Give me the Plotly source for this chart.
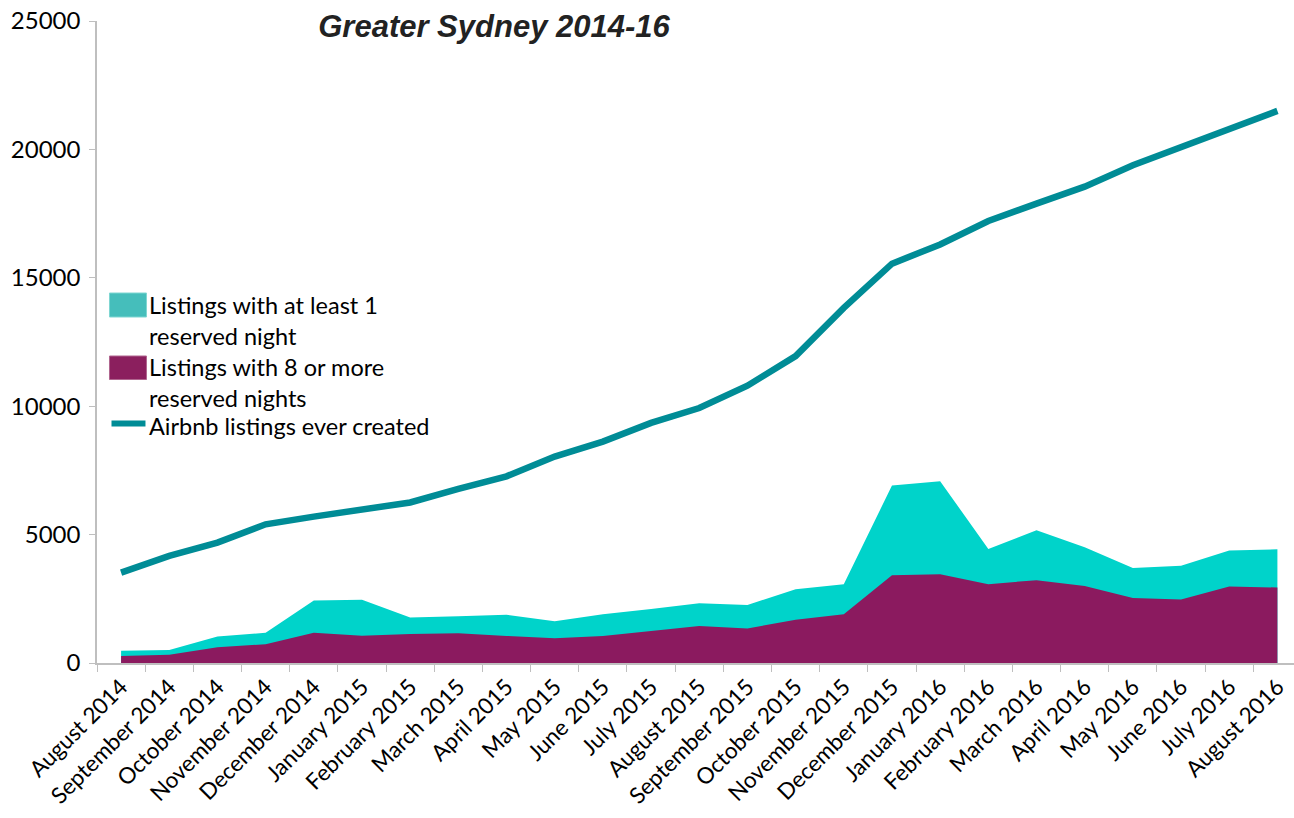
import plotly.graph_objects as go

months = ["August 2014", "September 2014", "October 2014", "November 2014", "December 2014",
          "January 2015", "February 2015", "March 2015", "April 2015", "May 2015", "June 2015",
          "July 2015", "August 2015", "September 2015", "October 2015", "November 2015",
          "December 2015", "January 2016", "February 2016", "March 2016", "April 2016",
          "May 2016", "June 2016", "July 2016", "August 2016"]

at_least_1 = [480, 510, 1030, 1180, 2430, 2460, 1770, 1820, 1880, 1630, 1900, 2100, 2330,
              2260, 2870, 3070, 6910, 7080, 4440, 5170, 4510, 3700, 3790, 4380, 4430]

eight_plus = [275, 325, 610, 730, 1180, 1065, 1130, 1155, 1055, 960, 1050, 1250, 1440,
              1345, 1680, 1900, 3420, 3460, 3070, 3225, 3000, 2535, 2470, 2975, 2940]

ever_created = [3520, 4170, 4690, 5400, 5700, 5970, 6250, 6780, 7270, 8040, 8620, 9350, 9930,
                10800, 11950, 13830, 15550, 16300, 17210, 17890, 18550, 19380, 20070, 20790, 21500]

y_ticks = [0, 5000, 10000, 15000, 20000, 25000]

legend_labels = ["Listings with at least 1<br>reserved night",
                 "Listings with 8 or more<br>reserved nights",
                 "Airbnb listings ever created"]

FONT = "Lato"
CYAN = "#00D3CA"
PURPLE = "#8B1A5F"
TEAL = "#008C96"

W, H = 1294, 818
PLOT_L, PLOT_R = 96.5, 1294.0   # screen px
PLOT_T, PLOT_B = 21.0, 663.0


def px(xs):
    return (xs - PLOT_L) / (PLOT_R - PLOT_L)


def py(ys):
    return (PLOT_B - ys) / (PLOT_B - PLOT_T)


fig = go.Figure()
fig.add_trace(go.Scatter(x=months, y=at_least_1, name=legend_labels[0].replace("<br>", " "),
                         mode="none", fill="tozeroy", fillcolor=CYAN))
fig.add_trace(go.Scatter(x=months, y=eight_plus, name=legend_labels[1].replace("<br>", " "),
                         mode="none", fill="tozeroy", fillcolor=PURPLE))
fig.add_trace(go.Scatter(x=months, y=ever_created, name=legend_labels[2],
                         mode="lines", line=dict(color=TEAL, width=6.5)))

# legend drawn as swatches + text
shapes = [
    dict(type="rect", xref="paper", yref="paper", x0=px(109), x1=px(146), y0=py(317), y1=py(293),
         fillcolor="#45BEBB", line=dict(color="#7FD6D2", width=1)),
    dict(type="rect", xref="paper", yref="paper", x0=px(109), x1=px(146), y0=py(379.5), y1=py(356),
         fillcolor="#8B1F5E", line=dict(color="#B0668F", width=1)),
    dict(type="line", xref="paper", yref="paper", x0=px(111), x1=px(145), y0=py(423.5), y1=py(423.5),
         line=dict(color=TEAL, width=6)),
]

label_centers = [320, 382, 426]
annotations = []
for txt, cy in zip(legend_labels, label_centers):
    annotations.append(dict(
        text=txt, xref="paper", yref="paper", x=px(146.5), y=py(cy),
        xanchor="left", yanchor="middle", align="left", showarrow=False,
        font=dict(family=FONT, size=23.5, color="black"),
    ))

fig.update_layout(
    width=W, height=H,
    margin=dict(l=PLOT_L, r=0, t=PLOT_T, b=H - PLOT_B, autoexpand=False),
    paper_bgcolor="white", plot_bgcolor="white",
    font=dict(family=FONT, size=20, color="black"),
    title=dict(text="<b><i>Greater Sydney 2014-16</i></b>",
               font=dict(family="Liberation Sans", size=31, color="#222222"),
               x=494 / W, xanchor="center", xref="container",
               y=1 - 26 / H, yanchor="middle", yref="container"),
    showlegend=False,
    shapes=shapes,
    annotations=annotations,
    xaxis=dict(
        type="category", range=[-0.5, -0.5 + (PLOT_R - PLOT_L) / 48.2],
        showgrid=False, zeroline=False,
        showline=True, linecolor="#BFBFBF", linewidth=1.5,
        ticks="outside", tickson="boundaries", ticklen=7, tickcolor="#BFBFBF",
        tickangle=-45, tickfont=dict(family=FONT, size=22.5, color="black"),
        ticklabeloverflow="allow",
    ),
    yaxis=dict(
        range=[0, 25000], tickvals=y_ticks, ticktext=[str(v) for v in y_ticks],
        showgrid=False, zeroline=False,
        showline=True, linecolor="#BFBFBF", linewidth=1.5,
        ticks="outside", ticklen=6, tickcolor="#BFBFBF", ticklabelstandoff=4,
        tickfont=dict(family=FONT, size=24, color="black"),
        ticklabeloverflow="allow",
    ),
)

fig.write_html("out.html", config={"displayModeBar": False},
               post_script="document.body.style.margin='0px';document.body.style.overflow='hidden';")
